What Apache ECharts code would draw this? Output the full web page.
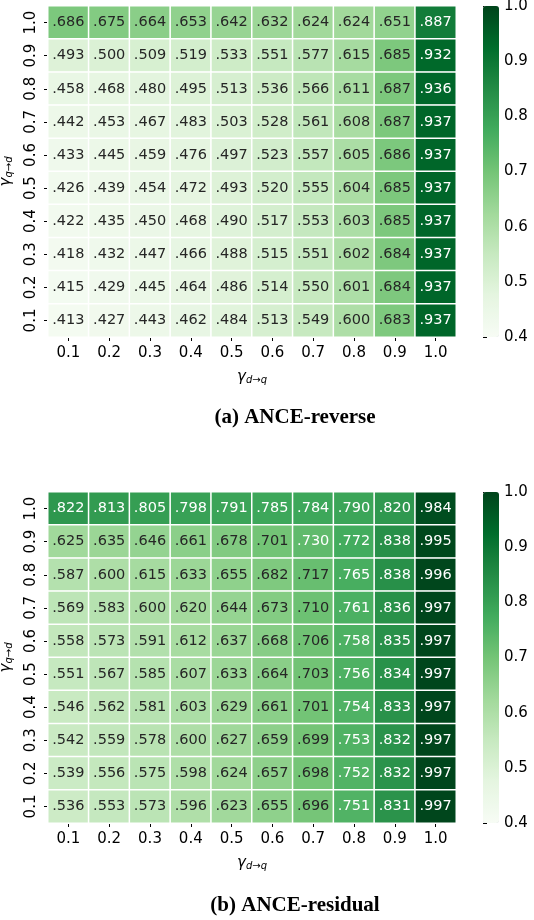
<!DOCTYPE html>
<html>
<head>
<meta charset="utf-8">
<script src="https://cdn.jsdelivr.net/npm/echarts@6/dist/echarts.min.js"></script>
<style>
  html, body { margin: 0; padding: 0; background: #fff; }
  #main { width: 534px; height: 920px; }
</style>
</head>
<body>
<div id="main"></div>
<script>
// axis categories
var gammaDQ = ['0.1', '0.2', '0.3', '0.4', '0.5', '0.6', '0.7', '0.8', '0.9', '1.0'];
var gammaQD = ['0.1', '0.2', '0.3', '0.4', '0.5', '0.6', '0.7', '0.8', '0.9', '1.0'];
var colorbarTicks = [0.4, 0.5, 0.6, 0.7, 0.8, 0.9, 1.0];

// rows listed from gamma_q->d = 1.0 (top) down to 0.1 (bottom)
var reverseRows = [
  [.686, .675, .664, .653, .642, .632, .624, .624, .651, .887],
  [.493, .500, .509, .519, .533, .551, .577, .615, .685, .932],
  [.458, .468, .480, .495, .513, .536, .566, .611, .687, .936],
  [.442, .453, .467, .483, .503, .528, .561, .608, .687, .937],
  [.433, .445, .459, .476, .497, .523, .557, .605, .686, .937],
  [.426, .439, .454, .472, .493, .520, .555, .604, .685, .937],
  [.422, .435, .450, .468, .490, .517, .553, .603, .685, .937],
  [.418, .432, .447, .466, .488, .515, .551, .602, .684, .937],
  [.415, .429, .445, .464, .486, .514, .550, .601, .684, .937],
  [.413, .427, .443, .462, .484, .513, .549, .600, .683, .937]
];
var residualRows = [
  [.822, .813, .805, .798, .791, .785, .784, .790, .820, .984],
  [.625, .635, .646, .661, .678, .701, .730, .772, .838, .995],
  [.587, .600, .615, .633, .655, .682, .717, .765, .838, .996],
  [.569, .583, .600, .620, .644, .673, .710, .761, .836, .997],
  [.558, .573, .591, .612, .637, .668, .706, .758, .835, .997],
  [.551, .567, .585, .607, .633, .664, .703, .756, .834, .997],
  [.546, .562, .581, .603, .629, .661, .701, .754, .833, .997],
  [.542, .559, .578, .600, .627, .659, .699, .753, .832, .997],
  [.539, .556, .575, .598, .624, .657, .698, .752, .832, .997],
  [.536, .553, .573, .596, .623, .655, .696, .751, .831, .997]
];

// matplotlib Greens
var greens = ['#f7fcf5', '#e5f5e0', '#c7e9c0', '#a1d99b', '#74c476', '#41ab5d', '#238b45', '#006d2c', '#00441b'];

var FONT = 'DejaVu Sans';

function toCells(rows) {
  var out = [];
  rows.forEach(function (row, r) {
    var yi = rows.length - 1 - r;
    row.forEach(function (v, xi) {
      out.push({
        value: [xi, yi, v],
        label: { color: v > 0.725 ? '#ffffff' : '#262626' }
      });
    });
  });
  return out;
}

var gammaName = function (sub) {
  return '{g|γ}{s|' + sub + '}';
};
var nameRich = {
  g: { fontFamily: FONT, fontStyle: 'italic', fontSize: 15, color: '#000' },
  s: { fontFamily: FONT, fontStyle: 'italic', fontSize: 10, color: '#000', padding: [6, 0, 0, 0] }
};

var plots = [
  { top: 6, rows: reverseRows, caption: '(a) ANCE-reverse', capY: 418 },
  { top: 492, rows: residualRows, caption: '(b) ANCE-residual', capY: 906 }
];

var option = {
  backgroundColor: '#fff',
  animation: false,
  grid: [], xAxis: [], yAxis: [], series: [], visualMap: [], graphic: []
};

plots.forEach(function (p, i) {
  var h = 331;
  // heatmap grid
  option.grid.push({ left: 48, top: p.top, width: 408, height: h, containLabel: false, outerBoundsMode: 'none' });
  // colorbar grid (only for tick labels)
  option.grid.push({ left: 483, top: p.top, width: 16, height: h, containLabel: false, outerBoundsMode: 'none' });

  option.xAxis.push({
    type: 'category', gridIndex: 2 * i, data: gammaDQ,
    axisLine: { show: false },
    axisTick: { show: true, alignWithLabel: true, length: 4, lineStyle: { color: '#000' } },
    axisLabel: { fontFamily: FONT, fontSize: 15, color: '#000', margin: 9 },
    splitArea: { show: false },
    name: gammaName('d→q'), nameLocation: 'middle', nameGap: 32,
    nameTextStyle: { rich: nameRich }
  });
  option.yAxis.push({
    type: 'category', gridIndex: 2 * i, data: gammaQD,
    axisLine: { show: false },
    axisTick: { show: true, alignWithLabel: true, length: 4, lineStyle: { color: '#000' } },
    axisLabel: { fontFamily: FONT, fontSize: 15, color: '#000', rotate: 90, margin: 9 },
    name: gammaName('q→d'), nameLocation: 'middle', nameGap: 34, nameRotate: 90,
    nameTextStyle: { rich: nameRich }
  });

  option.xAxis.push({ type: 'value', gridIndex: 2 * i + 1, show: false, min: 0, max: 1 });
  option.yAxis.push({
    type: 'value', gridIndex: 2 * i + 1, position: 'right',
    min: colorbarTicks[0], max: colorbarTicks[colorbarTicks.length - 1], interval: 0.1,
    axisLine: { show: false },
    splitLine: { show: false },
    axisTick: { show: true, length: 4, lineStyle: { color: '#000' } },
    axisLabel: {
      fontFamily: FONT, fontSize: 15, color: '#000', margin: 5,
      formatter: function (v) { return v.toFixed(1); }
    }
  });

  option.series.push({
    type: 'heatmap', xAxisIndex: 2 * i, yAxisIndex: 2 * i,
    data: toCells(p.rows),
    itemStyle: { borderColor: '#fff', borderWidth: 1.5 },
    label: {
      show: true, fontFamily: FONT, fontSize: 14.5,
      formatter: function (d) { return d.value[2].toFixed(3).slice(1); }
    },
    emphasis: { disabled: true }
  });

  option.visualMap.push({
    type: 'continuous', seriesIndex: i, dimension: 2,
    min: 0.4, max: 1.0, calculable: false, realtime: false,
    left: 483, top: p.top, padding: 0,
    itemWidth: 16, itemHeight: h,
    text: null, showLabel: false, indicatorSize: 0, hoverLink: false,
    inRange: { color: greens }
  });

  option.graphic.push({
    type: 'text', x: 295, y: p.capY,
    style: {
      text: p.caption, textAlign: 'center', textVerticalAlign: 'middle',
      font: 'bold 21px "Liberation Serif", serif', fill: '#000'
    }
  });
});

var myChart = echarts.init(document.getElementById('main'), null, { renderer: 'canvas' });
myChart.setOption(option);
</script>
</body>
</html>
